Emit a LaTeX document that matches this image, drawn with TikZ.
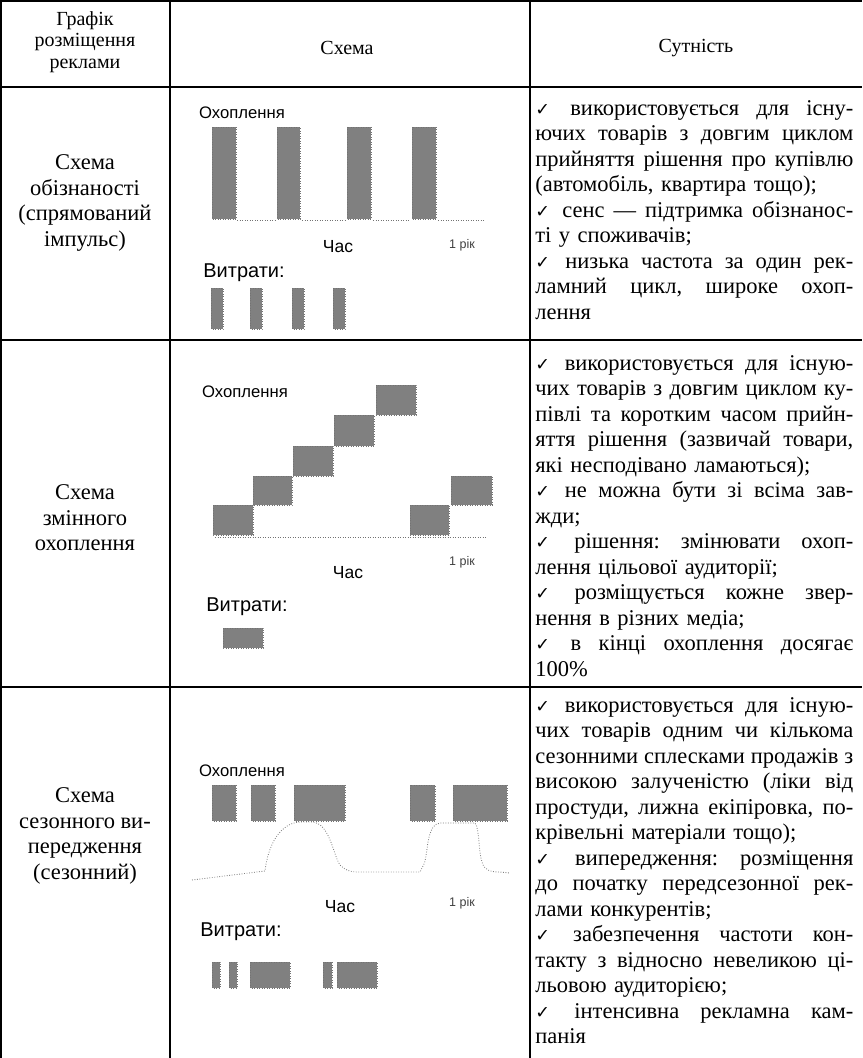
\documentclass[tikz,border=0pt]{standalone}
\usepackage{fontspec}
\setmainfont{Liberation Serif}
\setsansfont{Liberation Sans}
\newfontfamily\symfont{DejaVu Sans}
\usepackage{tikz}
\usetikzlibrary{positioning}
\definecolor{barfill}{RGB}{128,128,128}
\newlength\cellw
\setlength\cellw{190.8pt}
\newcommand{\chk}{{\symfont\fontsize{10.5}{10}\selectfont ✓}\hspace{.15em}\space}
\newcommand{\jl}[1]{\leavevmode\hbox to\cellw{\frenchspacing\spaceskip=.25em plus 2em minus .05em\relax #1}}
\tikzset{
    gridline/.style={line width=1.3pt, black},
    headcell/.style={font=\fontsize{12}{12.9}\selectfont, align=center, inner sep=0pt},
    namecell/.style={font=\fontsize{13.5}{15.3}\selectfont, align=center, inner sep=0pt},
    textcell/.style={font=\fontsize{13.5}{15.3}\selectfont, align=left, text width=\cellw, anchor=north west, inner sep=0pt},
    axislabel/.style={font=\sffamily\fontsize{10}{11}\selectfont, inner sep=0pt},
    costlabel/.style={font=\sffamily\fontsize{12}{13}\selectfont, inner sep=0pt},
    yearlabel/.style={font=\sffamily\fontsize{7.5}{8}\selectfont, text=black!75, inner sep=0pt},
    bar/.style={fill=barfill, draw=black!55, densely dotted, line width=0.5pt},
    zeroline/.style={densely dotted, black!55, line width=0.5pt},
    trend/.style={densely dotted, black!50, line width=0.5pt}
}

\begin{document}
\begin{tikzpicture}[x=0.6pt, y=-0.6pt]
    \useasboundingbox (0,0) rectangle (862,1058);

    % table grid
    \draw [gridline] (0,1) -- (862,1);
    \draw [gridline] (1,0) -- (1,1058);
    \draw [gridline] (170,0) -- (170,1058);
    \draw [gridline] (530,0) -- (530,1058);
    \draw [gridline] (0,87) -- (862,87);
    \draw [gridline] (0,340) -- (862,340);
    \draw [gridline] (0,687) -- (862,687);

    % header
    \node (hplan) [headcell] at (85,42) {Графік\\розміщення\\реклами};
    \node (hscheme) [headcell] at (347,48) {Схема};
    \node (hessence) [headcell] at (696,48) {Сутність};

    % row names
    \node (nameA) [namecell] at (85,203) {Схема\\обізнаності\\(спрямований\\імпульс)};
    \node (nameB) [namecell] at (85,518) {Схема\\змінного\\охоплення};
    \node (nameC) [namecell] at (85,836) {Схема\\сезонного ви-\\передження\\(сезонний)};

    % scheme A
    \node (reachA) [axislabel] at (242,113) {Охоплення};
    \draw [bar] (212,127) rectangle (236,219);
    \draw [bar] (277,127) rectangle (300,219);
    \draw [bar] (347,127) rectangle (371,219);
    \draw [bar] (412,127) rectangle (436,219);
    \draw [zeroline] (237,220) -- (275,220) (302,220) -- (345,220) (373,220) -- (410,220) (438,220) -- (485,220);
    \node (timeA) [axislabel, font=\sffamily\fontsize{10.5}{11}\selectfont] at (338,247) {Час};
    \node (yearA) [yearlabel] at (462,245) {1 рік};
    \node (costA) [costlabel] at (244,273) {Витрати:};
    \draw [bar] (211,288) rectangle (223,329);
    \draw [bar] (250,288) rectangle (262,329);
    \draw [bar] (292,288) rectangle (304,329);
    \draw [bar] (333,288) rectangle (345,329);

    % scheme B
    \node (reachB) [axislabel] at (245,392) {Охоплення};
    \draw [bar] (213,505) rectangle (253,535);
    \draw [bar] (253,476) rectangle (292,505);
    \draw [bar] (293,446) rectangle (333,476);
    \draw [bar] (334,415) rectangle (374,446);
    \draw [bar] (376,385) rectangle (416,415);
    \draw [bar] (410,505) rectangle (449,535);
    \draw [bar] (451,476) rectangle (492,505);
    \draw [zeroline] (215,537) -- (486,537);
    \node (timeB) [axislabel, font=\sffamily\fontsize{10.5}{11}\selectfont] at (348,573) {Час};
    \node (yearB) [yearlabel] at (462,562) {1 рік};
    \node (costB) [costlabel] at (247,607) {Витрати:};
    \draw [bar] (223,628) rectangle (263,648);

    % scheme C
    \node (reachC) [axislabel] at (242,771) {Охоплення};
    \draw [bar] (212,785) rectangle (236,821);
    \draw [bar] (251,785) rectangle (275,821);
    \draw [bar] (294,785) rectangle (345,821);
    \draw [bar] (410,785) rectangle (435,821);
    \draw [bar] (453,785) rectangle (507,821);
    \draw [trend] (192,880) -- (265,871) .. controls (268,845) and (280,823) .. (300,822)
        -- (312,822) .. controls (330,823) and (333,855) .. (340,865)
        .. controls (345,870) and (350,872) .. (357,872) -- (420,872) -- (424,864)
        .. controls (428,856) and (426,824) .. (440,823) -- (475,823)
        .. controls (480,830) and (478,850) .. (482,862)
        .. controls (484,870) and (490,872) .. (500,872) -- (510,873);
    \node (timeC) [axislabel, font=\sffamily\fontsize{10.5}{11}\selectfont] at (340,907) {Час};
    \node (yearC) [yearlabel] at (462,903) {1 рік};
    \node (costC) [costlabel] at (241,932) {Витрати:};
    \draw [bar] (212,962) rectangle (220,988);
    \draw [bar] (229,962) rectangle (237,988);
    \draw [bar] (250,962) rectangle (290,988);
    \draw [bar] (323,962) rectangle (332,988);
    \draw [bar] (337,962) rectangle (377,988);

    % essence texts
    \node (textA) [textcell] at (535,100) {\jl{\chk використовується для існу-}\\
        \jl{ючих товарів з довгим циклом}\\
        \jl{прийняття рішення про купівлю}\\
        (автомобіль, квартира тощо);\\
        \jl{\chk сенс — підтримка обізнанос-}\\
        ті у споживачів;\\
        \jl{\chk низька частота за один рек-}\\
        \jl{ламний цикл, широке охоп-}\\
        лення};
    \node (textB) [textcell] at (535,355) {\jl{\chk використовується для існую-}\\
        \jl{чих товарів з довгим циклом ку-}\\
        \jl{півлі та коротким часом прийн-}\\
        \jl{яття рішення (зазвичай товари,}\\
        які несподівано ламаються);\\
        \jl{\chk не можна бути зі всіма зав-}\\
        жди;\\
        \jl{\chk рішення: змінювати охоп-}\\
        лення цільової аудиторії;\\
        \jl{\chk розміщується кожне звер-}\\
        нення в різних медіа;\\
        \jl{\chk в кінці охоплення досягає}\\
        100\%};
    \node (textC) [textcell] at (535,697) {\jl{\chk використовується для існую-}\\
        \jl{чих товарів одним чи кількома}\\
        \jl{сезонними сплесками продажів з}\\
        \jl{високою залученістю (ліки від}\\
        \jl{простуди, лижна екіпіровка, по-}\\
        крівельні матеріали тощо);\\
        \jl{\chk випередження: розміщення}\\
        \jl{до початку передсезонної рек-}\\
        лами конкурентів;\\
        \jl{\chk забезпечення частоти кон-}\\
        \jl{такту з відносно невеликою ці-}\\
        льовою аудиторією;\\
        \jl{\chk інтенсивна рекламна кам-}\\
        панія};
\end{tikzpicture}
\end{document}
